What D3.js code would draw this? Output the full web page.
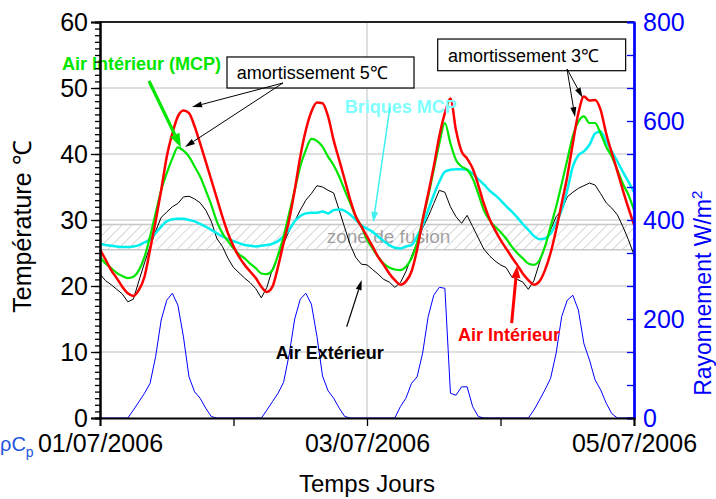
<!DOCTYPE html>
<html><head><meta charset="utf-8">
<script src="https://cdn.jsdelivr.net/npm/d3@7"></script>
<style>body{margin:0;background:#fff}svg{display:block}</style>
</head><body><svg id="c" width="716" height="499"></svg>
<script>
// ---- data (hourly, from 01/07/2006 00h to 05/07/2006 00h) ----
const hours = d3.range(0, 97);
const dayTicks = [0, 24, 48, 72, 96];
const dayLabels = {0: "01/07/2006", 48: "03/07/2006", 96: "05/07/2006"};
const tempTicks = [0, 10, 20, 30, 40, 50, 60];
const radTicks = [0, 200, 400, 600, 800];

const airInterieur = [
 25.5,24,22.4,21.2,19.9,18.9,18.5,19.4,21.4,25.5,29.8,34.5,39.6,43.1,45.7,46.6,46.2,44.2,41.6,38.9,36.1,33.3,30.5,28,
 26,24.4,23.2,22.2,21.2,19.9,19.1,19.9,22.9,26.5,30,34.5,39.6,43.6,46.4,47.8,47.7,45.7,42.1,39.1,36.1,33,30.5,29,
 27.5,26,24.4,23.2,21.9,20.9,20.2,20.7,22.2,25.5,30,34,38.1,42.7,46.2,48.4,43.6,40.4,39.3,37.8,35.3,32.5,30.2,28.5,
 27,25.7,24.4,23.2,21.9,20.9,20.2,20.7,22.4,25,28.5,32.5,36.6,41.6,46.2,48.7,48.1,48.2,46.7,43.1,40.2,37.4,34.5,31.8,29.3];
const airInterieurMCP = [
 24.4,23.4,22.7,22,21.5,21.2,21.4,22.4,24.4,27.5,31,34.5,37.1,39.3,41,40.5,39.6,38.1,36.6,34.5,32.3,29.8,28,26.8,
 25.7,24.8,24.2,23.4,22.7,21.9,21.8,22.4,24.7,27.5,31,34.5,38.1,40.6,42.3,42,41.1,39.6,38.3,36.6,34.5,32.5,30.5,29,
 27,25.7,24.4,23.4,22.8,22.5,22.4,22.9,24.2,26.5,30,33.6,37.6,41.6,44.7,41.6,39.1,38.1,37.6,36.3,34,31.5,30,29,
 28.2,27.2,26,25,24.2,23.4,23.2,23.9,26,29,32,35.5,39.1,42.7,44.9,45.7,44.7,44.7,43.1,41.1,39.6,37.6,35.5,33.8,31.5];
const briquesMCP = [
 26.4,26.2,26.1,26,25.9,25.9,26,26.2,26.6,27,28,29,29.8,30.1,30.2,30.2,30,29.8,29.4,29,28.5,28,27.5,27.1,
 26.8,26.5,26.2,26.1,26,26.1,26.2,26.4,26.8,27.5,28.5,29.8,30.6,31,31.1,31.1,31.3,31,31.5,31.6,31.4,30.8,30,29.2,
 28.7,28.2,27.5,26.8,26.2,25.8,25.7,26,26.2,27.5,29.2,31.5,33.8,35.8,37.3,37.6,37.7,37.7,37.6,37,36.2,35.4,34.5,33.8,
 33,32.1,31.3,30.4,29.4,28.5,27.6,27.1,27.2,27.9,29.5,31.5,34.5,38.1,39.8,40.4,41.4,43.1,43.4,41.9,40.4,38.9,37.3,35.8,34.2];
const airExterieur = [
 21.8,20.8,20.2,19.5,18.8,17.6,18,20.8,23.5,26,28.3,30.4,31.2,32,32.5,33.5,33.6,33.2,32.6,31.5,29.8,27.2,26,24.2,
 22.8,22,21.2,20.5,19.6,18.2,19.8,22.6,24.5,26.5,28.3,29.8,31.5,33,34,35.2,35,34.5,34.1,31.5,28.8,26.2,24.3,23.3,
 23.2,22.5,21.8,21,20.6,19.8,20.5,22.2,24.5,26.6,28.8,30.5,32.5,34.5,34.2,32,30.5,29.5,30.7,29,27.3,25.6,24.6,23.8,
 23.2,22.8,21.4,21,20.6,19.5,20.8,23.5,26,28.5,30.5,31.5,33.5,34.2,34.8,35.2,35.6,35.3,34,32.6,31.8,30.8,29,27,24.7];
const rayonnement = [
 0,0,0,0,0,0,16,33,50,70,124,198,238,252,228,164,83,53,40,20,3,0,0,0,
 0,0,0,0,0,0,16,33,50,72,128,200,240,252,230,165,85,55,40,20,3,0,0,0,
 0,0,0,0,0,0,23,40,70,83,131,205,248,264,262,50,46,63,63,23,3,0,0,0,
 0,0,0,0,0,0,16,36,57,80,131,205,238,248,218,150,117,77,57,30,9,0,0,0,0];
const zoneFusion = [25.5, 29.3];

// ---- layout ----
const FONT = '"Liberation Sans", Arial, Helvetica, sans-serif';
const svg = d3.select("#c");
const x = d3.scaleLinear().domain([0, 96]).range([100, 634]);
const yT = d3.scaleLinear().domain([0, 60]).range([418, 22]);
const yR = d3.scaleLinear().domain([0, 800]).range([418, 22]);
const P = (h, t) => [x(h), yT(t)];

// defs: hatch pattern
const defs = svg.append("defs");
const pat = defs.append("pattern").attr("id", "hatch").attr("patternUnits", "userSpaceOnUse")
  .attr("width", 7).attr("height", 7).attr("patternTransform", "rotate(45)");
pat.append("line").attr("x1", 0).attr("y1", 0).attr("x2", 0).attr("y2", 7)
  .attr("stroke", "#b5b5b5").attr("stroke-width", 1.1);

// grid
const grid = svg.append("g");
grid.selectAll("line.h").data([10, 20, 30, 40, 50]).join("line")
  .attr("x1", x(0)).attr("x2", x(96)).attr("y1", d => yT(d)).attr("y2", d => yT(d))
  .attr("stroke", "#d4d4d4").attr("stroke-width", 1.5);
grid.append("line").attr("x1", x(48)).attr("x2", x(48)).attr("y1", yT(60)).attr("y2", yT(0))
  .attr("stroke", "#d4d4d4").attr("stroke-width", 1.5);

// zone de fusion band
svg.append("rect").attr("x", x(0)).attr("width", x(96) - x(0))
  .attr("y", yT(zoneFusion[1])).attr("height", yT(zoneFusion[0]) - yT(zoneFusion[1]))
  .attr("fill", "url(#hatch)").attr("stroke", "none");
svg.selectAll("line.zf").data(zoneFusion).join("line")
  .attr("x1", x(0)).attr("x2", x(96)).attr("y1", d => yT(d)).attr("y2", d => yT(d))
  .attr("stroke", "#c8c8c8").attr("stroke-width", 1.5);
svg.append("text").attr("x", x(40.76)).attr("y", yT(26.47)).text("zone de fusion")
  .attr("font-family", FONT).attr("font-size", 19).attr("fill", "#8f8f8f").attr("fill-opacity", 0.85);

// curves
const lineT = (curve) => d3.line().x((d, i) => x(hours[i])).y(d => yT(d)).curve(curve);
const lineR = d3.line().x((d, i) => x(hours[i])).y(d => yR(d));
svg.append("path").datum(rayonnement).attr("d", lineR).attr("fill", "none").attr("stroke", "#0000ff").attr("stroke-width", 1);
svg.append("path").datum(airExterieur).attr("d", lineT(d3.curveLinear)).attr("fill", "none").attr("stroke", "#000").attr("stroke-width", 1);
svg.append("path").datum(briquesMCP).attr("d", lineT(d3.curveMonotoneX)).attr("fill", "none").attr("stroke", "#00f0f0").attr("stroke-width", 2.5);
svg.append("path").datum(airInterieurMCP).attr("d", lineT(d3.curveMonotoneX)).attr("fill", "none").attr("stroke", "#00e600").attr("stroke-width", 2.2);
svg.append("path").datum(airInterieur).attr("d", lineT(d3.curveMonotoneX)).attr("fill", "none").attr("stroke", "#ff0000").attr("stroke-width", 2.5);

// arrows
function arrow(from, to, color, w, hl, hw) {
  const [x1, y1] = P(from[0], from[1]), [x2, y2] = P(to[0], to[1]);
  const a = Math.atan2(y2 - y1, x2 - x1);
  const bx = x2 - hl * Math.cos(a), by = y2 - hl * Math.sin(a);
  svg.append("line").attr("x1", x1).attr("y1", y1).attr("x2", bx).attr("y2", by)
    .attr("stroke", color).attr("stroke-width", w);
  const px = -Math.sin(a) * hw / 2, py = Math.cos(a) * hw / 2;
  svg.append("path").attr("d", `M${x2},${y2}L${bx + px},${by + py}L${bx - px},${by - py}Z`).attr("fill", color);
}
function label(h, t, txt, color, size, weight) {
  return svg.append("text").attr("x", x(h)).attr("y", yT(t)).text(txt)
    .attr("font-family", FONT).attr("font-size", size).attr("font-weight", weight || "normal").attr("fill", color);
}

// Air Intérieur (MCP)
label(-6.83, 52.7, "Air Intérieur (MCP)", "#00e600", 18, "bold");
arrow([8.81, 51.06], [14.56, 40.98], "#00e600", 3.2, 14, 10);

// amortissement 5℃
svg.append("rect").attr("x", x(22.83)).attr("y", yT(54.7)).attr("width", x(56.45) - x(22.83)).attr("height", yT(50) - yT(54.7))
  .attr("fill", "#fff").attr("stroke", "#000").attr("stroke-width", 1.2);
label(24.6, 51.4, "amortissement 5℃", "#000", 18);
arrow([32.9, 50.76], [16.54, 47.12], "#000", 1, 10, 6);
arrow([32.9, 50.76], [15.28, 41.06], "#000", 1, 10, 6);

// amortissement 3℃
svg.append("rect").attr("x", x(60.71)).attr("y", yT(57.42)).attr("width", x(94.5) - x(60.71)).attr("height", yT(52.62) - yT(57.42))
  .attr("fill", "#fff").attr("stroke", "#000").attr("stroke-width", 1.2);
label(62.56, 53.9, "amortissement 3℃", "#000", 18);
arrow([83.96, 52.88], [86.74, 48.56], "#000", 1, 10, 6);
arrow([83.96, 52.88], [85.39, 45.6], "#000", 1, 10, 6);

// Briques MCP
label(43.99, 46.17, "Briques MCP", "#80ffff", 18, "bold");
arrow([52.13, 47.12], [49.13, 29.7], "#40f0f0", 1.5, 10, 7);

// Air Extérieur
label(31.59, 8.94, "Air Extérieur", "#000", 18, "bold");
arrow([44.35, 13.83], [47.05, 20.9], "#000", 1.2, 10, 6);

// Air Intérieur
label(64.36, 11.67, "Air Intérieur", "#ff0000", 18, "bold");
arrow([74.01, 14.39], [74.97, 23.03], "#ff0000", 3, 12, 9);

// ---- axes ----
function styleAxis(g, color, size) {
  g.attr("font-family", FONT).attr("font-size", size);
  g.selectAll("path.domain").attr("stroke", color).attr("stroke-width", 2);
  g.selectAll(".tick line").attr("stroke", color).attr("stroke-width", 1.3);
  g.selectAll(".tick text").attr("fill", color);
}
// top border
svg.append("line").attr("x1", x(0)).attr("x2", x(96)).attr("y1", yT(60)).attr("y2", yT(60)).attr("stroke", "#222").attr("stroke-width", 2);

// left axis: minor + major
const gLm = svg.append("g").attr("transform", `translate(${x(0)},0)`)
  .call(d3.axisLeft(yT).tickValues(d3.range(0, 61, 1)).tickSize(5).tickFormat(""));
styleAxis(gLm, "#000", 25);
const gL = svg.append("g").attr("transform", `translate(${x(0)},0)`)
  .call(d3.axisLeft(yT).tickValues(tempTicks).tickSize(9).tickPadding(3).tickFormat(d3.format("d")));
styleAxis(gL, "#000", 25);

// right axis
const gRm = svg.append("g").attr("transform", `translate(${x(96)},0)`)
  .call(d3.axisRight(yR).tickValues(d3.range(0, 13).map(i => i * 800 / 12)).tickSize(-7).tickFormat(""));
styleAxis(gRm, "#0000ff", 25);
const gR = svg.append("g").attr("transform", `translate(${x(96)},0)`)
  .call(d3.axisRight(yR).tickValues(radTicks).tickSize(0).tickPadding(9).tickFormat(d3.format("d")));
styleAxis(gR, "#0000ff", 25);
gR.select("path.domain").attr("stroke-width", 2.5);

// bottom axis
const gB = svg.append("g").attr("transform", `translate(0,${yT(0)})`)
  .call(d3.axisBottom(x).tickValues(dayTicks).tickSize(8).tickPadding(8).tickFormat(d => dayLabels[d] || ""));
styleAxis(gB, "#000", 25);

// axis titles
svg.append("text").attr("x", x(48)).attr("y", 492).attr("text-anchor", "middle")
  .attr("font-family", FONT).attr("font-size", 24).attr("fill", "#000").text("Temps Jours");
svg.append("text").attr("transform", `translate(31,${yT(29)}) rotate(-90)`).attr("text-anchor", "middle")
  .attr("font-family", FONT).attr("font-size", 25).attr("fill", "#000").text("Température ℃");
const rt = svg.append("text").attr("transform", `translate(711,${yR(252)}) rotate(-90)`).attr("text-anchor", "middle")
  .attr("font-family", FONT).attr("font-size", 23).attr("fill", "#0000ff");
rt.append("tspan").text("Rayonnement W/m");
rt.append("tspan").attr("font-size", 15).attr("dy", -9).text("2");

// ρCp (at the left edge, as in the reference)
const rc = svg.append("text").attr("x", 0).attr("y", 451).attr("font-family", FONT).attr("font-size", 20).attr("fill", "#2255dd");
rc.append("tspan").text("ρC");
rc.append("tspan").attr("font-size", 14).attr("dy", 6).text("p");
</script></body></html>
